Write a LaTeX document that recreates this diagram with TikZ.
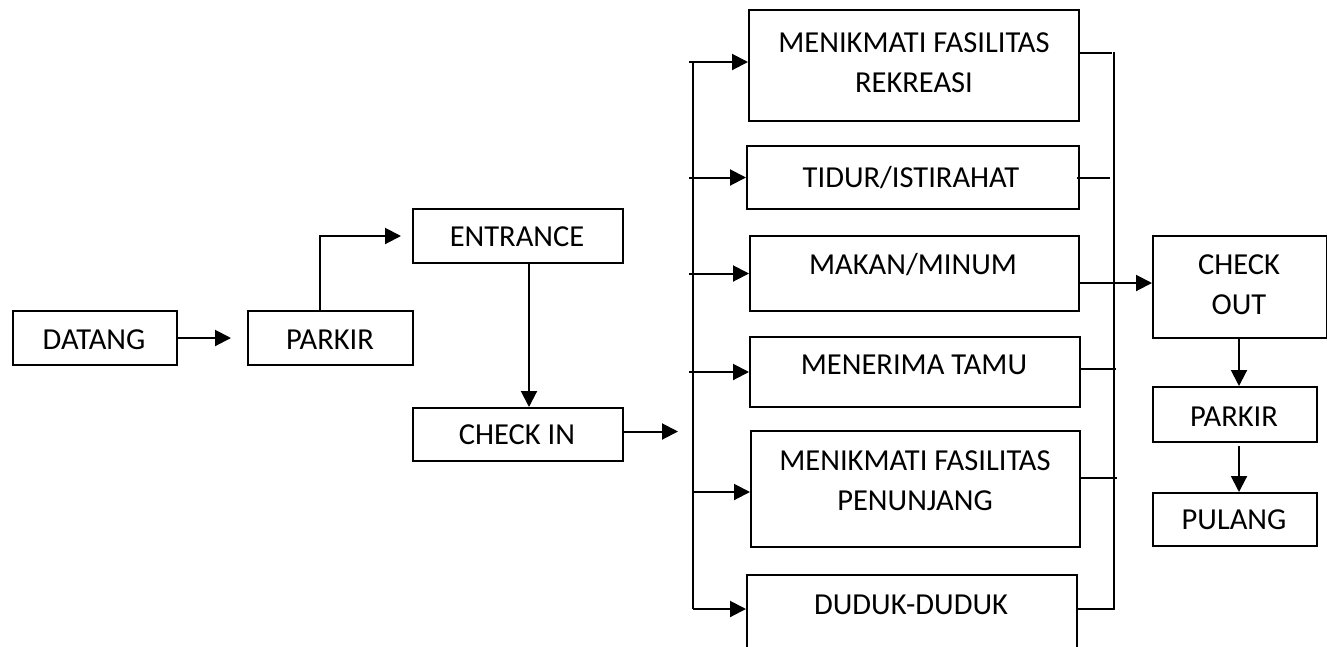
\documentclass[tikz,border=0pt]{standalone}
\usepackage{fontspec}
\setmainfont{Carlito}
\usetikzlibrary{arrows.meta,calc}
\begin{document}
\begin{tikzpicture}[x=1pt,y=-1pt,
  box/.style={draw,line width=2pt,inner sep=0pt,anchor=north west},
  lbl/.style={inner sep=0pt,font=\fontsize{30.5}{40}\selectfont,align=center},
  ln/.style={line width=2pt},
  arr/.style={ln,-{Triangle[length=16pt,width=16pt]}}]
\clip (0,0) rectangle (1327,646);
\useasboundingbox (0,0) rectangle (1327,646);
% boxes
\node[box,minimum width=164pt,minimum height=54pt] (datang) at (12,310) {};
\node[box,minimum width=165pt,minimum height=54pt] (parkirA) at (247,310) {};
\node[box,minimum width=210pt,minimum height=54pt] (entrance) at (412,208) {};
\node[box,minimum width=210pt,minimum height=53pt] (checkin) at (412,407) {};
\node[box,minimum width=330pt,minimum height=111pt] (rekreasi) at (748,9) {};
\node[box,minimum width=332pt,minimum height=63pt] (tidur) at (746,145) {};
\node[box,minimum width=329pt,minimum height=75pt] (makan) at (749,235) {};
\node[box,minimum width=330pt,minimum height=70pt] (tamu) at (749,336) {};
\node[box,minimum width=329pt,minimum height=116pt] (penunjang) at (750,430) {};
\node[box,minimum width=330pt,minimum height=90pt] (duduk) at (746,574) {};
\node[box,minimum width=174pt,minimum height=102pt] (checkout) at (1152,235) {};
\node[box,minimum width=164pt,minimum height=55pt] (parkirB) at (1152,386) {};
\node[box,minimum width=164pt,minimum height=53pt] (pulang) at (1152,492) {};
% labels
\node[lbl] (datangT) at (94,340) {DATANG};
\node[lbl] (parkirAT) at (330,340) {PARKIR};
\node[lbl] (entranceT) at (517,237) {ENTRANCE};
\node[lbl] (checkinT) at (517,435) {CHECK IN};
\node[lbl] (rekreasiT) at (914,63) {MENIKMATI FASILITAS\\REKREASI};
\node[lbl] (tidurT) at (911,178) {TIDUR/ISTIRAHAT};
\node[lbl] (makanT) at (913,265) {MAKAN/MINUM};
\node[lbl] (tamuT) at (914,365) {MENERIMA TAMU};
\node[lbl] (penunjangT) at (915,481) {MENIKMATI FASILITAS\\PENUNJANG};
\node[lbl] (dudukT) at (911,605) {DUDUK-DUDUK};
\node[lbl] (checkoutT) at (1239,285) {CHECK\\OUT};
\node[lbl] (parkirBT) at (1234,417) {PARKIR};
\node[lbl] (pulangT) at (1234,520) {PULANG};
% coordinates
\coordinate (busTop) at (693,62);
\coordinate (busBot) at (693,609);
\coordinate (rbusTop) at (1114,52);
\coordinate (rbusBot) at (1114,609);
\coordinate (cinX) at (678,0);
% left flow
\draw[arr,shorten >=16pt] (datang.east) -- (parkirA.west);
\draw[arr,shorten >=11pt] ([xshift=-11pt]parkirA.north) |- (entrance.west);
\draw[arr] ([xshift=11pt]entrance.south) -- ([xshift=11pt]checkin.north);
\draw[arr] ([yshift=3pt]checkin.east) -- ([yshift=3pt]checkin.east -| cinX);
% left bus
\draw[ln] (busTop) -- (busBot);
\draw[arr] ([xshift=-4pt]busTop) -- (busTop -| rekreasi.west);
\draw[arr] ($(tidur.west -| busTop)+(-4,0)$) -- (tidur.west);
\draw[arr] ($(makan.west -| busTop)+(-4,0)$) -- (makan.west);
\draw[arr] ($(tamu.west -| busTop)+(-4,0)$) -- (tamu.west);
\draw[arr] ([yshift=-3pt]penunjang.west -| busTop) -- ([yshift=-3pt]penunjang.west);
\draw[arr] (busBot) -- (busBot -| duduk.west);
% right bus
\draw[ln] ([yshift=12.5pt]rekreasi.east) -- ([yshift=12.5pt,xshift=-2pt]rekreasi.east -| rbusTop);
\draw[ln] ([xshift=-3pt]tidur.east) -- ([xshift=-4pt]tidur.east -| rbusTop);
\draw[ln] ([yshift=3pt]tamu.east) -- ([yshift=3pt,xshift=2pt]tamu.east -| rbusTop);
\draw[ln] ([yshift=11pt]penunjang.east) -- ([yshift=11pt,xshift=3pt]penunjang.east -| rbusTop);
\draw[ln] (rbusTop) -- (rbusBot) -- (rbusBot -| duduk.east);
\draw[arr] ([yshift=-9.5pt]makan.east) -- ([yshift=-9.5pt]makan.east -| checkout.west);
% right column
\draw[arr] ([xshift=-1pt]checkout.south) -- ([xshift=-1pt]checkout.south |- parkirB.north);
\draw[arr] ([xshift=-1pt,yshift=-3pt]checkout.south |- parkirB.south) -- ([xshift=-1pt]checkout.south |- pulang.north);
\end{tikzpicture}
\end{document}
